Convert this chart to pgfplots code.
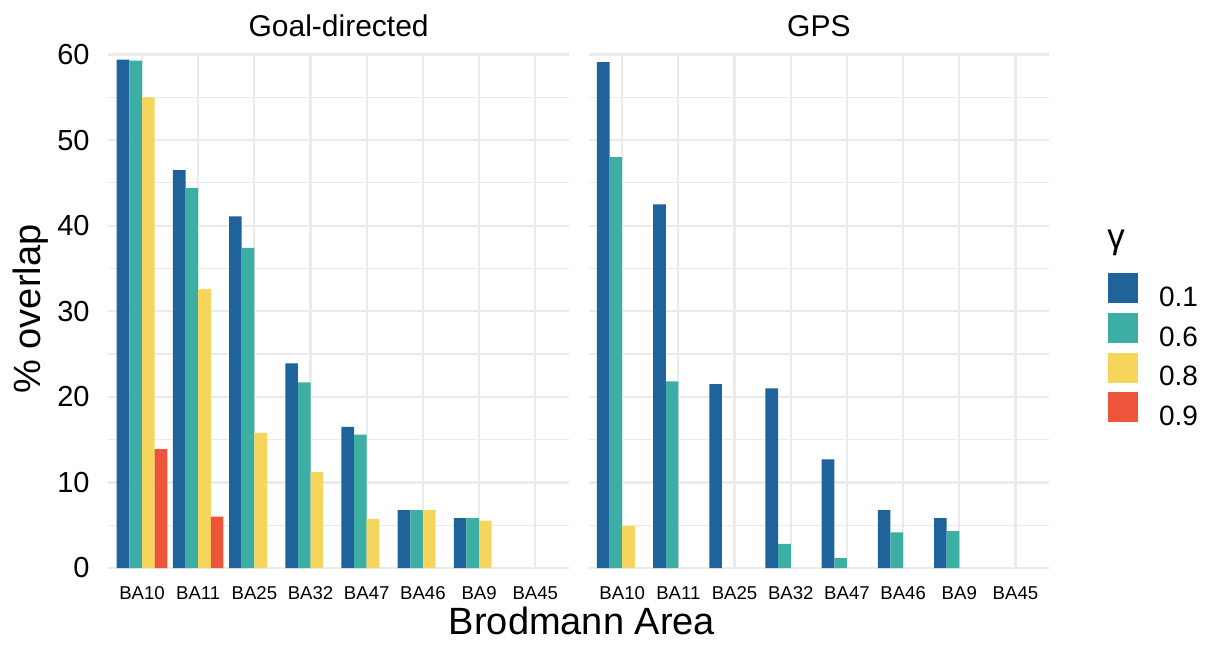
\documentclass[border=0pt]{standalone}
\usepackage{fontspec}
\setmainfont{Liberation Sans}
\usepackage{pgfplots}
\usepackage{pgfplotstable}
\pgfplotsset{compat=1.18}
\definecolor{cA}{HTML}{20639B}
\definecolor{cB}{HTML}{3CAEA3}
\definecolor{cC}{HTML}{F6D55C}
\definecolor{cD}{HTML}{ED553B}
\definecolor{gridc}{HTML}{EBEBEB}

\pgfplotstableread{
x a b c d
0 59.4 59.3 55.0 13.9
1 46.5 44.4 32.6 6.0
2 41.1 37.4 15.8 nan
3 23.9 21.7 11.2 nan
4 16.5 15.6 5.75 nan
5 6.75 6.75 6.75 nan
6 5.83 5.83 5.54 nan
7 nan nan nan nan
}\goaltab

\pgfplotstableread{
x a b c
0 59.1 48.0 4.9
1 42.5 21.8 nan
2 21.5 nan nan
3 21.0 2.83 nan
4 12.7 1.17 nan
5 6.75 4.17 nan
6 5.83 4.3 nan
7 nan nan nan
}\gpstab

\begin{document}
\begin{tikzpicture}
\path[use as bounding box] (0,0) rectangle (603.5pt,-322.5pt);
\pgfplotsset{
  panel/.style={
    scale only axis,
    width=230.35pt, height=256.75pt,
    anchor=south west,
    ybar,
    xmin=-0.6, xmax=7.6, ymin=0, ymax=60,
    xtick={0,...,7},
    xticklabels={BA10,BA11,BA25,BA32,BA47,BA46,BA9,BA45},
    ytick={0,10,...,60},
    minor ytick={5,15,...,55},
    xmajorgrids, ymajorgrids, yminorgrids,
    major grid style={draw=gridc, line width=1.1pt},
    minor grid style={draw=gridc, line width=0.6pt},
    axis line style={draw=none},
    major tick length=0pt, minor tick length=0pt,
    tick style={draw=none},
    unbounded coords=discard,
    /pgf/number format/assume math mode=true,
    xticklabel style={anchor=base, yshift=-15.6pt, inner sep=0pt, font=\fontsize{9.3pt}{11pt}\selectfont},
    yticklabel style={anchor=east, inner sep=0pt, xshift=-9.15pt, font=\fontsize{14.5pt}{17pt}\selectfont},
    title style={at={(0.5,1)}, anchor=base, yshift=3pt, font=\fontsize{15pt}{18pt}\selectfont},
    clip=false,
  }
}
\begin{axis}[panel, at={(54.15pt,-284pt)}, title={Goal-directed}]
\addplot[fill=cA, draw=none, bar width=0.225, bar shift=-0.3375] table[x=x,y=a]{\goaltab};
\addplot[fill=cB, draw=none, bar width=0.225, bar shift=-0.1125] table[x=x,y=b]{\goaltab};
\addplot[fill=cC, draw=none, bar width=0.225, bar shift=0.1125] table[x=x,y=c]{\goaltab};
\addplot[fill=cD, draw=none, bar width=0.225, bar shift=0.3375] table[x=x,y=d]{\goaltab};
\end{axis}
\begin{axis}[panel, at={(294.25pt,-284pt)}, title={GPS}, yticklabels={},
  legend image code/.code={\fill[#1] (0pt,-2.5pt) rectangle (15pt,12.5pt);},
  legend cell align=left,
  legend style={at={(1.1283,0.5739)}, anchor=north west, draw=none, fill=none,
    inner sep=0pt, outer sep=0pt, row sep=1.67pt,
    font=\fontsize{14pt}{16pt}\selectfont,
    nodes={inner sep=0pt},
    /tikz/every odd column/.append style={column sep=10.35pt}},
]
\addplot[fill=cA, draw=none, bar width=0.225, bar shift=-0.3375] table[x=x,y=a]{\gpstab};
\addlegendentry{0.1}
\addplot[fill=cB, draw=none, bar width=0.225, bar shift=-0.1125] table[x=x,y=b]{\gpstab};
\addlegendentry{0.6}
\addplot[fill=cC, draw=none, bar width=0.225, bar shift=0.1125] table[x=x,y=c]{\gpstab};
\addlegendentry{0.8}
\addlegendimage{fill=cD, draw=none}
\addlegendentry{0.9}
\end{axis}
\node[rotate=90, anchor=base, inner sep=0pt, font=\fontsize{19pt}{22pt}\selectfont] at (20pt,-154.5pt) {\% overlap};
\node[anchor=base, inner sep=0pt, font=\fontsize{19pt}{22pt}\selectfont] at (291pt,-317pt) {Brodmann Area};
\node[anchor=base west, inner sep=0pt, font=\fontsize{17.5pt}{20pt}\selectfont] at (553.5pt,-124pt) {γ};
\end{tikzpicture}
\end{document}
